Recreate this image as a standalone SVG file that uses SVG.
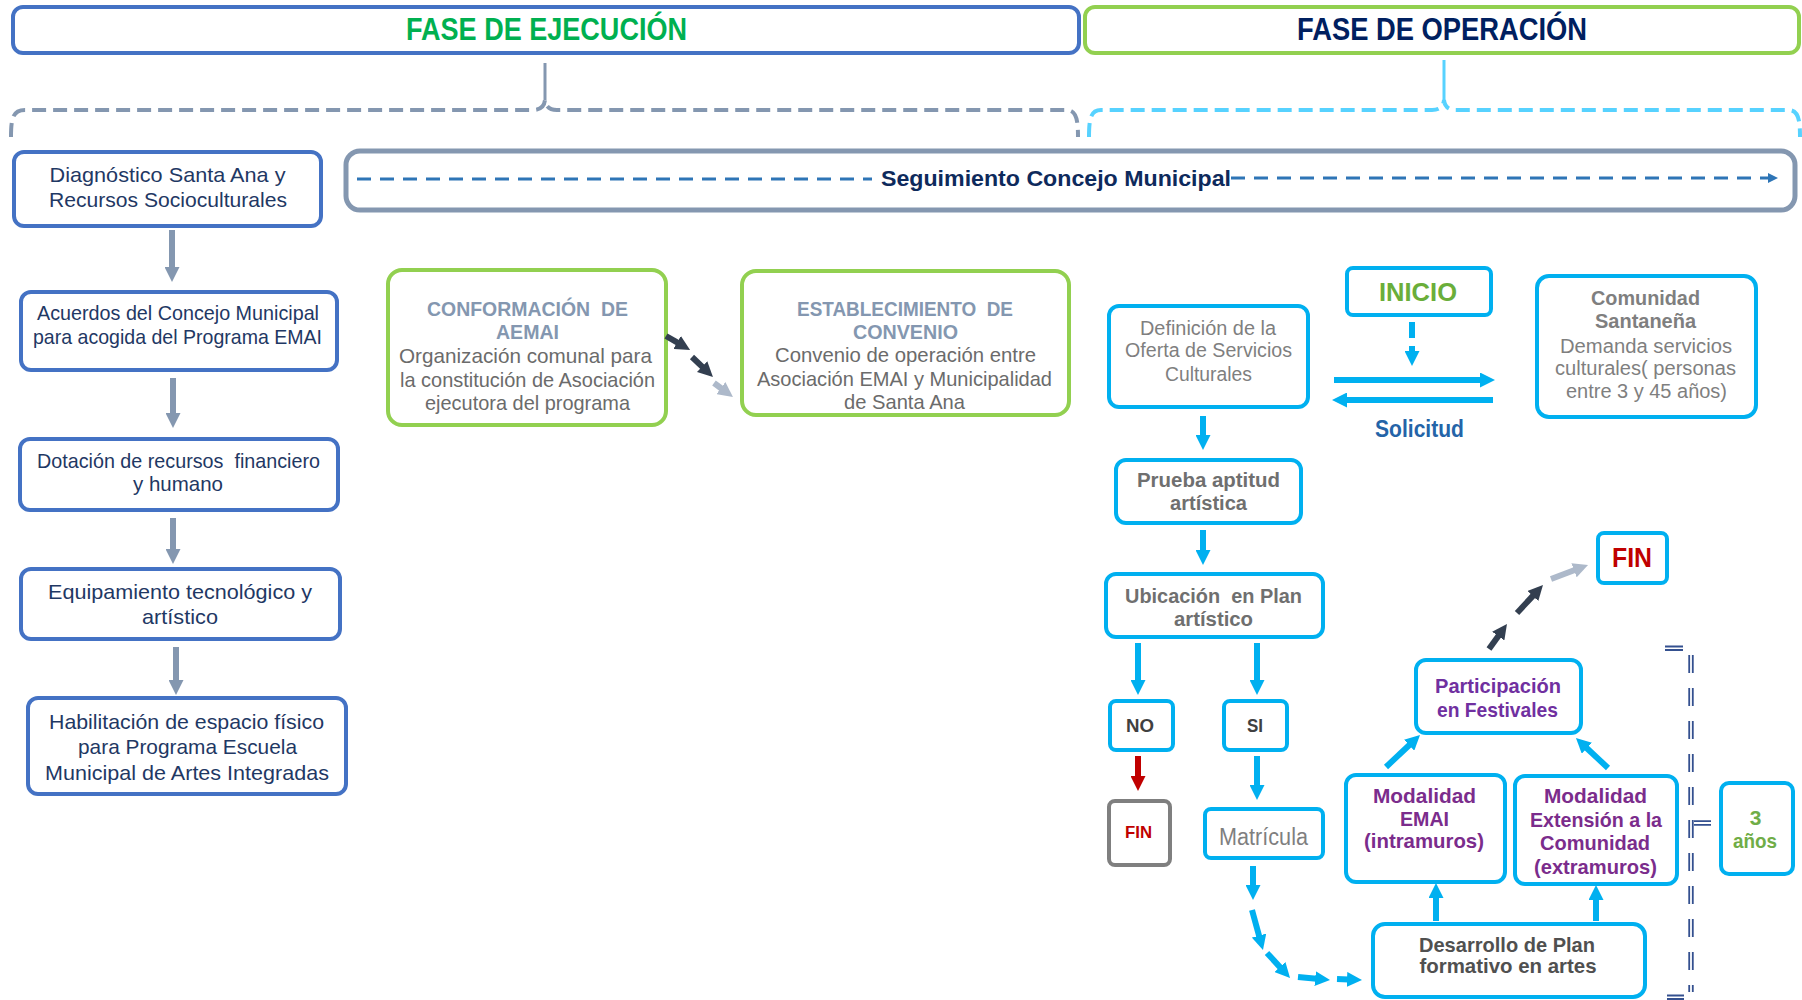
<svg xmlns="http://www.w3.org/2000/svg" width="1802" height="1000" viewBox="0 0 1802 1000">
<defs>
<style>
text{font-family:"Liberation Sans",Arial,sans-serif;text-anchor:middle;white-space:pre}
.bb{fill:#fff;stroke:#4472C4;stroke-width:4}
.bg{fill:#fff;stroke:#92D050;stroke-width:4}
.bc{fill:#fff;stroke:#00B0F0;stroke-width:4}
.tl{fill:#1F3864;font-size:21px}
.tg{fill:#8497B0;font-size:21px;font-weight:bold}
.tb{fill:#6B6B6B;font-size:21px}
.gr{fill:#7F7F7F;font-size:20px}
.grb{fill:#6F6F6F;font-size:20px;font-weight:bold}
.pu{fill:#7B2C8C;font-size:21px;font-weight:bold}
.ag{stroke:#8497B0;stroke-width:6;fill:none}
.ac{stroke:#00B0F0;stroke-width:6;fill:none}
</style>
<marker id="mGray" viewBox="0 0 10 10" refX="1" refY="5" markerUnits="userSpaceOnUse" markerWidth="15" markerHeight="15" orient="auto"><path d="M0,0 L10,5 L0,10 z" fill="#8497B0"/></marker>
<marker id="mCyan" viewBox="0 0 10 10" refX="1" refY="5" markerUnits="userSpaceOnUse" markerWidth="15" markerHeight="15" orient="auto"><path d="M0,0 L10,5 L0,10 z" fill="#00B0F0"/></marker>
<marker id="mRed" viewBox="0 0 10 10" refX="1" refY="5" markerUnits="userSpaceOnUse" markerWidth="15" markerHeight="15" orient="auto"><path d="M0,0 L10,5 L0,10 z" fill="#C00000"/></marker>
<marker id="mDark" viewBox="0 0 10 10" refX="1" refY="5" markerUnits="userSpaceOnUse" markerWidth="15" markerHeight="15" orient="auto"><path d="M0,0 L10,5 L0,10 z" fill="#333F50"/></marker>
<marker id="mLight" viewBox="0 0 10 10" refX="1" refY="5" markerUnits="userSpaceOnUse" markerWidth="15" markerHeight="15" orient="auto"><path d="M0,0 L10,5 L0,10 z" fill="#ADB9CA"/></marker>
<marker id="mBlue" viewBox="0 0 10 10" refX="1" refY="5" markerUnits="userSpaceOnUse" markerWidth="10" markerHeight="10" orient="auto"><path d="M0,0 L10,5 L0,10 z" fill="#2E75B6"/></marker>
</defs>
<rect x="0" y="0" width="1802" height="1000" fill="#fff"/>

<g id="fase-ejecucion">
<rect x="13" y="7" width="1066" height="46" rx="10" fill="#fff" stroke="#4472C4" stroke-width="4"/>
<text x="546.5" y="40" font-size="31" font-weight="bold" fill="#00B050" textLength="281" lengthAdjust="spacingAndGlyphs">FASE DE EJECUCIÓN</text>
</g>
<g id="fase-operacion">
<rect x="1085" y="7" width="714" height="46" rx="10" fill="#fff" stroke="#92D050" stroke-width="4"/>
<text x="1442" y="40" font-size="31" font-weight="bold" fill="#002060" textLength="290" lengthAdjust="spacingAndGlyphs">FASE DE OPERACIÓN</text>
</g>

<g id="brackets">
<path d="M545,63 V100" stroke="#8497B0" stroke-width="3" fill="none"/>
<path d="M11,137 C11,118 13,110 25,110 H533 Q544,110 545,100 Q546,110 557,110 H1066 C1076,110 1078,118 1078,137" stroke="#8497B0" stroke-width="4" fill="none" stroke-dasharray="14 7"/>
<path d="M1444,60 V100" stroke="#57D2FF" stroke-width="3" fill="none"/>
<path d="M1089,137 C1089,118 1091,110 1101,110 H1432 Q1443,110 1444,100 Q1445,110 1456,110 H1788 C1798,110 1800,118 1800,137" stroke="#57D2FF" stroke-width="4" fill="none" stroke-dasharray="14 7"/>
</g>

<g id="seguimiento">
<rect x="346" y="151" width="1449" height="59" rx="14" fill="#fff" stroke="#8497B0" stroke-width="5"/>
<path d="M357,179 H872" stroke="#2E75B6" stroke-width="3" stroke-dasharray="14 9" fill="none"/>
<path d="M1231,178 H1769" stroke="#2E75B6" stroke-width="3" stroke-dasharray="14 9" fill="none" marker-end="url(#mBlue)"/>
<text x="1056" y="186" font-size="22" font-weight="bold" fill="#0E2A5C" textLength="350" lengthAdjust="spacingAndGlyphs">Seguimiento Concejo Municipal</text>
</g>

<g id="diagnostico">
<rect class="bb" x="14" y="152" width="307" height="74" rx="10"/>
<text class="tl" x="167.5" y="182" textLength="236" lengthAdjust="spacingAndGlyphs">Diagnóstico Santa Ana y</text>
<text class="tl" x="168" y="207" textLength="238" lengthAdjust="spacingAndGlyphs">Recursos Socioculturales</text>
</g>
<g id="acuerdos">
<rect class="bb" x="21" y="292" width="316" height="78" rx="10"/>
<text class="tl" x="178" y="320" textLength="282" lengthAdjust="spacingAndGlyphs">Acuerdos del Concejo Municipal</text>
<text class="tl" x="177.5" y="344" textLength="289" lengthAdjust="spacingAndGlyphs">para acogida del Programa EMAI</text>
</g>
<g id="dotacion">
<rect class="bb" x="20" y="439" width="318" height="71" rx="10"/>
<text class="tl" x="178.5" y="468" textLength="283" lengthAdjust="spacingAndGlyphs">Dotación de recursos  financiero</text>
<text class="tl" x="178" y="491" textLength="90" lengthAdjust="spacingAndGlyphs">y humano</text>
</g>
<g id="equipamiento">
<rect class="bb" x="21" y="569" width="319" height="70" rx="10"/>
<text class="tl" x="180" y="599" font-size="24" textLength="264" lengthAdjust="spacingAndGlyphs">Equipamiento tecnológico y</text>
<text class="tl" x="180" y="624" font-size="24" textLength="76" lengthAdjust="spacingAndGlyphs">artístico</text>
</g>
<g id="habilitacion">
<rect class="bb" x="28" y="698" width="318" height="96" rx="10"/>
<text class="tl" x="186.5" y="729" font-size="24" textLength="275" lengthAdjust="spacingAndGlyphs">Habilitación de espacio físico</text>
<text class="tl" x="187.5" y="754" font-size="24" textLength="219" lengthAdjust="spacingAndGlyphs">para Programa Escuela</text>
<text class="tl" x="187" y="780" font-size="24" textLength="284" lengthAdjust="spacingAndGlyphs">Municipal de Artes Integradas</text>
</g>

<g id="conformacion">
<rect class="bg" x="388" y="270" width="278" height="155" rx="14"/>
<text class="tg" x="527.5" y="316" textLength="201" lengthAdjust="spacingAndGlyphs">CONFORMACIÓN  DE</text>
<text class="tg" x="527.5" y="339" textLength="63" lengthAdjust="spacingAndGlyphs">AEMAI</text>
<text class="tb" x="525.5" y="363" textLength="253" lengthAdjust="spacingAndGlyphs">Organización comunal para</text>
<text class="tb" x="527.5" y="387" textLength="255" lengthAdjust="spacingAndGlyphs">la constitución de Asociación</text>
<text class="tb" x="527.5" y="410" textLength="205" lengthAdjust="spacingAndGlyphs">ejecutora del programa</text>
</g>
<g id="establecimiento">
<rect class="bg" x="742" y="271" width="327" height="144" rx="14"/>
<text class="tg" x="905" y="316" textLength="216" lengthAdjust="spacingAndGlyphs">ESTABLECIMIENTO  DE</text>
<text class="tg" x="905.5" y="339" textLength="105" lengthAdjust="spacingAndGlyphs">CONVENIO</text>
<text class="tb" x="905.5" y="362" textLength="261" lengthAdjust="spacingAndGlyphs">Convenio de operación entre</text>
<text class="tb" x="904.5" y="386" textLength="295" lengthAdjust="spacingAndGlyphs">Asociación EMAI y Municipalidad</text>
<text class="tb" x="904.5" y="409" textLength="121" lengthAdjust="spacingAndGlyphs">de Santa Ana</text>
</g>

<g id="definicion">
<rect class="bc" x="1109" y="306" width="199" height="101" rx="10"/>
<text class="gr" x="1208" y="335" textLength="136" lengthAdjust="spacingAndGlyphs">Definición de la</text>
<text class="gr" x="1208.5" y="357" textLength="167" lengthAdjust="spacingAndGlyphs">Oferta de Servicios</text>
<text class="gr" x="1208.5" y="381" textLength="87" lengthAdjust="spacingAndGlyphs">Culturales</text>
</g>
<g id="inicio">
<rect class="bc" x="1347" y="268" width="144" height="47" rx="6"/>
<text x="1418" y="301" font-size="26" font-weight="bold" fill="#6AAE3A" textLength="78" lengthAdjust="spacingAndGlyphs">INICIO</text>
</g>
<g id="solicitud-label">
<text x="1419.5" y="437" font-size="23" font-weight="bold" fill="#2464A8" textLength="89" lengthAdjust="spacingAndGlyphs">Solicitud</text>
</g>
<g id="comunidad">
<rect class="bc" x="1537" y="276" width="219" height="141" rx="12"/>
<text x="1645.5" y="305" font-size="21" font-weight="bold" fill="#7F7F7F" textLength="109" lengthAdjust="spacingAndGlyphs">Comunidad</text>
<text x="1645.5" y="328" font-size="21" font-weight="bold" fill="#7F7F7F" textLength="101" lengthAdjust="spacingAndGlyphs">Santaneña</text>
<text class="gr" x="1646" y="353" textLength="172" lengthAdjust="spacingAndGlyphs">Demanda servicios</text>
<text class="gr" x="1645.5" y="375" textLength="181" lengthAdjust="spacingAndGlyphs">culturales( personas</text>
<text class="gr" x="1646.5" y="398" textLength="161" lengthAdjust="spacingAndGlyphs">entre 3 y 45 años)</text>
</g>
<g id="prueba">
<rect class="bc" x="1116" y="460" width="185" height="63" rx="10"/>
<text class="grb" x="1208.5" y="487" textLength="143" lengthAdjust="spacingAndGlyphs">Prueba aptitud</text>
<text class="grb" x="1208.5" y="510" textLength="77" lengthAdjust="spacingAndGlyphs">artística</text>
</g>
<g id="ubicacion">
<rect class="bc" x="1106" y="574" width="217" height="63" rx="10"/>
<text class="grb" x="1213.5" y="603" textLength="177" lengthAdjust="spacingAndGlyphs">Ubicación  en Plan</text>
<text class="grb" x="1213.5" y="626" textLength="79" lengthAdjust="spacingAndGlyphs">artístico</text>
</g>
<g id="no">
<rect class="bc" x="1110" y="701" width="63" height="49" rx="6"/>
<text x="1140" y="732" font-size="19" font-weight="bold" fill="#404040" textLength="28" lengthAdjust="spacingAndGlyphs">NO</text>
</g>
<g id="si">
<rect class="bc" x="1224" y="701" width="63" height="49" rx="6"/>
<text x="1255" y="732" font-size="19" font-weight="bold" fill="#404040" textLength="16" lengthAdjust="spacingAndGlyphs">SI</text>
</g>
<g id="fin-no">
<rect x="1109" y="801" width="61" height="64" rx="6" fill="#fff" stroke="#7F7F7F" stroke-width="4"/>
<text x="1138.5" y="838" font-size="17" font-weight="bold" fill="#C00000" textLength="27" lengthAdjust="spacingAndGlyphs">FIN</text>
</g>
<g id="matricula">
<rect class="bc" x="1205" y="809" width="118" height="49" rx="6"/>
<text x="1263.5" y="845" font-size="23" fill="#7F7F7F" textLength="89" lengthAdjust="spacingAndGlyphs">Matrícula</text>
</g>
<g id="desarrollo">
<rect class="bc" x="1373" y="924" width="272" height="73" rx="12"/>
<text x="1507" y="952" font-size="21" font-weight="bold" fill="#505050" textLength="176" lengthAdjust="spacingAndGlyphs">Desarrollo de Plan</text>
<text x="1508" y="973" font-size="21" font-weight="bold" fill="#505050" textLength="177" lengthAdjust="spacingAndGlyphs">formativo en artes</text>
</g>
<g id="modalidad-emai">
<rect class="bc" x="1346" y="775" width="159" height="107" rx="10"/>
<text class="pu" x="1424.5" y="803" textLength="103" lengthAdjust="spacingAndGlyphs">Modalidad</text>
<text class="pu" x="1424.5" y="826" textLength="49" lengthAdjust="spacingAndGlyphs">EMAI</text>
<text class="pu" x="1424" y="848" textLength="120" lengthAdjust="spacingAndGlyphs">(intramuros)</text>
</g>
<g id="modalidad-extension">
<rect class="bc" x="1515" y="776" width="162" height="108" rx="10"/>
<text class="pu" x="1595.5" y="803" textLength="103" lengthAdjust="spacingAndGlyphs">Modalidad</text>
<text class="pu" x="1596" y="827" textLength="132" lengthAdjust="spacingAndGlyphs">Extensión a la</text>
<text class="pu" x="1595" y="850" textLength="110" lengthAdjust="spacingAndGlyphs">Comunidad</text>
<text class="pu" x="1595.5" y="874" textLength="123" lengthAdjust="spacingAndGlyphs">(extramuros)</text>
</g>
<g id="participacion">
<rect class="bc" x="1416" y="660" width="165" height="73" rx="10"/>
<text x="1498" y="693" font-size="21" font-weight="bold" fill="#7030A0" textLength="126" lengthAdjust="spacingAndGlyphs">Participación</text>
<text x="1497.5" y="717" font-size="21" font-weight="bold" fill="#7030A0" textLength="121" lengthAdjust="spacingAndGlyphs">en Festivales</text>
</g>
<g id="fin-final">
<rect class="bc" x="1598" y="533" width="69" height="50" rx="6"/>
<text x="1632" y="567" font-size="28" font-weight="bold" fill="#C00000" textLength="40" lengthAdjust="spacingAndGlyphs">FIN</text>
</g>
<g id="tres-anos">
<rect class="bc" x="1721" y="783" width="72" height="91" rx="8"/>
<text x="1755.5" y="825" font-size="21" font-weight="bold" fill="#70AD47">3</text>
<text x="1755" y="848" font-size="21" font-weight="bold" fill="#70AD47" textLength="44" lengthAdjust="spacingAndGlyphs">años</text>
</g>
<g id="bracket-3-anos" fill="none">
<path d="M1665,646.5 H1683 M1665,650 H1683" stroke="#34508F" stroke-width="1.8"/>
<path d="M1694,821.2 H1711 M1694,824.8 H1711" stroke="#34508F" stroke-width="1.8"/>
<path d="M1667,995.5 H1684 M1667,999 H1684" stroke="#34508F" stroke-width="1.8"/>
<path d="M1689.2,655 V992 M1692.8,655 V992" stroke="#34508F" stroke-width="1.8" stroke-dasharray="18 15"/>
</g>

<g id="connectors">
<path class="ag" d="M172,230 V268.5" marker-end="url(#mGray)"/>
<path class="ag" d="M173,378 V414.5" marker-end="url(#mGray)"/>
<path class="ag" d="M173,518 V550.5" marker-end="url(#mGray)"/>
<path class="ag" d="M176,647 V681.5" marker-end="url(#mGray)"/>
<path d="M666,336 L678.4,343.2" stroke="#333F50" stroke-width="6" fill="none" marker-end="url(#mDark)"/>
<path d="M692,357 L703.2,367.7" stroke="#333F50" stroke-width="6" fill="none" marker-end="url(#mDark)"/>
<path d="M714,383 L722.1,389" stroke="#ADB9CA" stroke-width="6" fill="none" marker-end="url(#mLight)"/>
<path class="ac" d="M1412,322 V352.5" stroke-dasharray="16 8" marker-end="url(#mCyan)"/>
<path class="ac" d="M1334,380 H1481.5" marker-end="url(#mCyan)"/>
<path class="ac" d="M1493,400 H1345.5" marker-end="url(#mCyan)"/>
<path class="ac" d="M1203,416 V436.5" marker-end="url(#mCyan)"/>
<path class="ac" d="M1203,530 V551.5" marker-end="url(#mCyan)"/>
<path class="ac" d="M1138,643 V681.5" marker-end="url(#mCyan)"/>
<path class="ac" d="M1257,643 V681.5" marker-end="url(#mCyan)"/>
<path d="M1138,756 V777.5" stroke="#C00000" stroke-width="6" fill="none" marker-end="url(#mRed)"/>
<path class="ac" d="M1257,756 V786.5" marker-end="url(#mCyan)"/>
<path class="ac" d="M1253,866 V886.5" marker-end="url(#mCyan)"/>
<path class="ac" d="M1252,910 L1259.4,937" marker-end="url(#mCyan)"/>
<path class="ac" d="M1267,953 L1280.9,968.1" marker-end="url(#mCyan)"/>
<path class="ac" d="M1298,977 L1316.6,978.8" marker-end="url(#mCyan)"/>
<path class="ac" d="M1337,979 L1348.5,979.5" marker-end="url(#mCyan)"/>
<path class="ac" d="M1436,921 V896.5" marker-end="url(#mCyan)"/>
<path class="ac" d="M1596,921 V898.5" marker-end="url(#mCyan)"/>
<path class="ac" d="M1386,767 L1410.2,744.2" marker-end="url(#mCyan)"/>
<path class="ac" d="M1608,768 L1585.8,747.2" marker-end="url(#mCyan)"/>
<path d="M1489,649 L1499.1,634.9" stroke="#333F50" stroke-width="6" fill="none" marker-end="url(#mDark)"/>
<path d="M1517,613 L1533.8,594.9" stroke="#333F50" stroke-width="6" fill="none" marker-end="url(#mDark)"/>
<path d="M1551,579 L1575.4,569.8" stroke="#ADB9CA" stroke-width="6" fill="none" marker-end="url(#mLight)"/>
</g>
</svg>
